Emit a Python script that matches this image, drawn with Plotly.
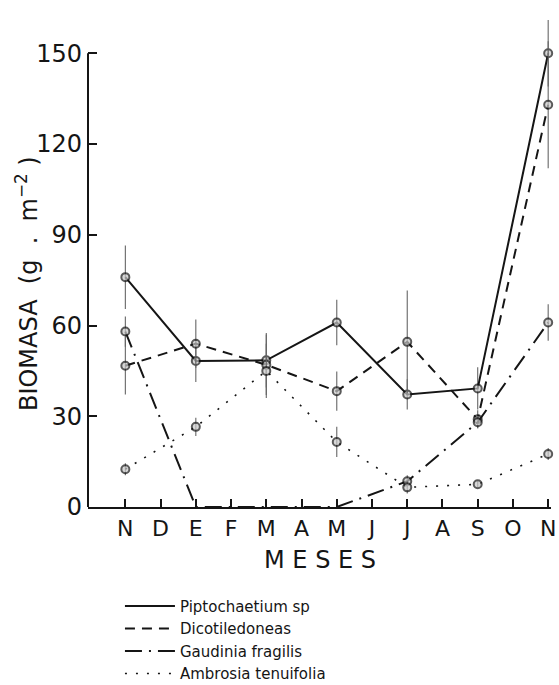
import plotly.graph_objects as go

# ---- data ----
month_labels = ["N", "D", "E", "F", "M", "A", "M", "J", "J", "A", "S", "O", "N"]
month_pos = list(range(13))
sample_x = [0, 2, 4, 6, 8, 10, 12]

series_names = ["Piptochaetium sp", "Dicotiledoneas", "Gaudinia fragilis", "Ambrosia tenuifolia"]

pipto = [76, 48.3, 48.5, 61, 37.2, 39.2, 150]
pipto_err = [10.5, 7, 9, 7.5, 5, 7, 11]

dicot = [46.7, 54, 47, 38.3, 54.6, 29, 133]
dicot_err = [9.5, 8, 10, 6.5, 17, 3, 21]

gaud = [58, 0, 0, 0, 8.5, 28, 61]
gaud_err = [5, 0, 0, 0, 2, 2, 6]

ambro = [12.5, 26.5, 45, 21.5, 6.5, 7.5, 17.5]
ambro_err = [2, 3, 9, 5, 2, 1, 2]

y_ticks = [0, 30, 60, 90, 120, 150]

# ---- styles ----
INK = "#151515"
FONT = "DejaVu Sans"
styles = [
    dict(color=INK, width=2, dash="solid"),
    dict(color=INK, width=2, dash="10px,7px"),
    dict(color=INK, width=2, dash="17px,7px,2px,7px"),
    dict(color=INK, width=1.6, dash="2px,9px"),
]
values = [pipto, dicot, gaud, ambro]
errors = [pipto_err, dicot_err, gaud_err, ambro_err]

fig = go.Figure()

for name, vals, errs, st in zip(series_names, values, errors, styles):
    sizes = [8 if v > 0 else 0 for v in vals]
    fig.add_trace(go.Scatter(
        x=sample_x, y=vals, mode="lines+markers", name=name, showlegend=False,
        line=st,
        marker=dict(symbol="circle", size=sizes, color="#c8c8c8",
                    line=dict(color=INK, width=2)),
        error_y=dict(type="data", array=errs, visible=True, thickness=1.1,
                     width=0, color="#666666"),
        cliponaxis=False,
    ))

# legend-only traces (line samples without markers)
for name, st in zip(series_names, styles):
    fig.add_trace(go.Scatter(x=[None], y=[None], mode="lines", name=name,
                             line=st, showlegend=True))

fig.update_layout(
    width=559, height=685,
    margin=dict(l=88, r=8, t=14, b=178),
    paper_bgcolor="white", plot_bgcolor="white",
    font=dict(family=FONT, color=INK),
    showlegend=True,
    legend=dict(x=0.069, xref="paper", y=0.139, yref="container",
                xanchor="left", yanchor="top",
                font=dict(size=15, family=FONT, color=INK),
                itemwidth=50, tracegroupgap=0, bgcolor="rgba(0,0,0,0)"),
    xaxis=dict(range=[-1.06, 12.08], tickmode="array", tickvals=month_pos,
               ticktext=month_labels, ticks="inside", ticklen=8, tickwidth=1.5,
               tickcolor=INK, showline=True, linewidth=2, linecolor=INK,
               showgrid=False, zeroline=False, automargin=False,
               tickfont=dict(size=22, family=FONT, color=INK),
               ticklabelstandoff=1),
    yaxis=dict(range=[0, 163], tickmode="array", tickvals=y_ticks,
               ticks="inside", ticklen=9, tickwidth=1.5, tickcolor=INK,
               showline=False, showgrid=False, zeroline=False, automargin=False,
               tickfont=dict(size=24, family=FONT, color=INK),
               ticklabelstandoff=5),
    shapes=[dict(type="line", xref="x domain", yref="y", x0=0, x1=0,
                 y0=0, y1=150, line=dict(color=INK, width=2))],
    annotations=[
        dict(text="BIOMASA  (g  .  m<sup>−2</sup> )", textangle=-90,
             xref="paper", yref="y", x=-0.132, y=74, xanchor="center",
             yanchor="middle", showarrow=False,
             font=dict(size=24, family=FONT, color=INK)),
        dict(text="M E S E S", xref="paper", yref="paper", x=0.5, y=-0.108,
             xanchor="center", yanchor="middle", showarrow=False,
             font=dict(size=24, family=FONT, color=INK)),
    ],
)

fig.write_html("out.html")
